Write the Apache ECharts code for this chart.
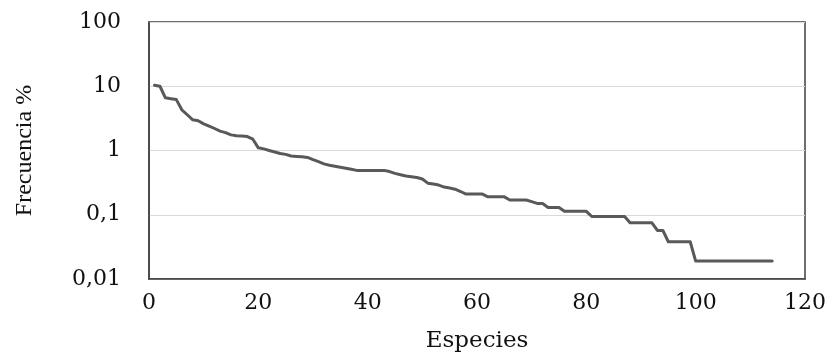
<!DOCTYPE html>
<html>
<head>
<meta charset="utf-8">
<script src="https://cdn.jsdelivr.net/npm/echarts@6/dist/echarts.min.js"></script>
<style>
html,body{margin:0;padding:0;background:#fff;}
#chart{width:836px;height:358px;}
</style>
</head>
<body>
<div id="chart"></div>
<script>
const species = [1,2,3,4,5,6,7,8,9,10,11,12,13,14,15,16,17,18,19,20,
21,22,23,24,25,26,27,28,29,30,31,32,33,34,35,36,37,38,39,40,
41,42,43,44,45,46,47,48,49,50,51,52,53,54,55,56,57,58,59,60,
61,62,63,64,65,66,67,68,69,70,71,72,73,74,75,76,77,78,79,80,
81,82,83,84,85,86,87,88,89,90,91,92,93,94,95,96,97,98,99,100,
101,102,103,104,105,106,107,108,109,110,111,112,113,114];
const frequency = [10.4,10.0,6.6,6.4,6.2,4.3,3.6,3.0,2.9,2.6,
2.4,2.2,2.0,1.9,1.75,1.7,1.68,1.65,1.5,1.1,
1.06,1.0,0.95,0.9,0.87,0.82,0.81,0.8,0.78,0.72,
0.67,0.62,0.59,0.57,0.55,0.53,0.51,0.49,0.49,0.49,
0.49,0.49,0.49,0.47,0.44,0.42,0.40,0.39,0.38,0.36,
0.31,0.30,0.29,0.27,0.26,0.25,0.23,0.21,0.21,0.21,
0.21,0.19,0.19,0.19,0.19,0.17,0.17,0.17,0.17,0.16,
0.15,0.15,0.13,0.13,0.13,0.113,0.113,0.113,0.113,0.113,
0.094,0.094,0.094,0.094,0.094,0.094,0.094,0.075,0.075,0.075,
0.075,0.075,0.057,0.057,0.038,0.038,0.038,0.038,0.038,0.019,
0.019,0.019,0.019,0.019,0.019,0.019,0.019,0.019,0.019,0.019,
0.019,0.019,0.019,0.019];
const xTicks = [0,20,40,60,80,100,120];
const yTicks = [0.01,0.1,1,10,100];
const xName = 'Especies';
const yName = 'Frecuencia %';

const chart = echarts.init(document.getElementById('chart'), null, {renderer:'canvas'});
const font = 'DejaVu Serif';
chart.setOption({
  animation:false,
  grid:{left:149,right:31,top:22,bottom:79,show:true,borderColor:'#404040',borderWidth:1.5,backgroundColor:'transparent'},
  xAxis:{
    type:'value',min:xTicks[0],max:xTicks[xTicks.length-1],interval:20,
    name:xName,nameLocation:'middle',nameGap:51,
    nameTextStyle:{fontFamily:font,fontSize:23,color:'#111'},
    axisLine:{show:true,lineStyle:{color:'#404040',width:1.5}},
    axisTick:{show:false},
    splitLine:{show:false},
    axisLabel:{fontFamily:font,fontSize:22,color:'#111',margin:13}
  },
  yAxis:{
    type:'log',logBase:10,min:yTicks[0],max:yTicks[yTicks.length-1],splitNumber:4,
    name:yName,nameLocation:'middle',nameGap:112,nameRotate:90,
    nameTextStyle:{fontFamily:'Liberation Serif',fontSize:24,color:'#111'},
    axisLine:{show:true,lineStyle:{color:'#404040',width:1.5}},
    axisTick:{show:false},
    splitLine:{show:true,lineStyle:{color:'#d9d9d9',width:1}},
    axisLabel:{fontFamily:font,fontSize:22,color:'#111',margin:28,
      formatter:function(v){return String(parseFloat(Number(v).toPrecision(6))).replace('.',',');}}
  },
  series:[{
    type:'line',
    data:species.map((s,i)=>[s,frequency[i]]),
    showSymbol:false,
    smooth:false,
    lineStyle:{color:'#595959',width:3,cap:'round',join:'round'}
  }]
});
</script>
</body>
</html>
